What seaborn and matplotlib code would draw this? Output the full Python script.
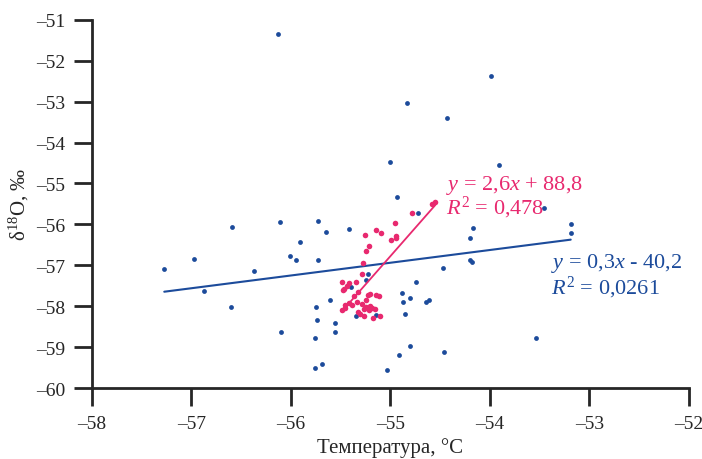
import numpy as np
import pandas as pd
import matplotlib
matplotlib.use("Agg")
import matplotlib.pyplot as plt
import seaborn as sns

# ─── DATA ────────────────────────────────────────────────────
blue_t = [-56.587, -57.273, -56.975, -56.871, -56.597, -56.125, -54.828, -54.426,
          -55.002, -54.935, -54.720, -56.107, -55.726, -55.642, -55.420, -55.904,
          -54.168, -54.200, -56.007, -55.944, -55.726, -56.366, -55.243, -55.220,
          -55.397, -55.602, -55.746, -55.736, -55.558, -55.552, -55.753, -56.098,
          -55.685, -55.756, -55.035, -55.350, -55.143, -54.744, -54.880, -54.868,
          -54.798, -54.848, -54.643, -54.607, -54.466, -54.798, -54.910, -54.456,
          -54.195, -54.180, -53.984, -53.910, -53.457, -53.186, -53.186, -53.540]
blue_d = [-56.06, -57.095, -56.85, -57.616, -58.017, -51.34, -53.03, -53.40,
          -54.48, -55.335, -55.71, -55.95, -55.91, -56.19, -56.12, -56.42,
          -56.08, -56.32, -56.77, -56.875, -56.875, -57.13, -57.365, -57.22,
          -57.52, -57.85, -58.01, -58.34, -58.42, -58.63, -58.77, -58.62,
          -59.41, -59.50, -59.565, -58.23, -58.21, -57.41, -57.665, -57.90,
          -57.80, -58.20, -57.90, -57.85, -57.07, -58.96, -59.20, -59.12,
          -56.875, -56.93, -52.38, -54.55, -55.60, -55.98, -56.21, -58.77]

pink_t = [-54.583, -54.547, -54.780, -54.952, -55.146, -55.093, -55.256, -54.989,
          -54.945, -54.940, -55.216, -55.243, -55.273, -55.283, -55.484, -55.461,
          -55.471, -55.411, -55.434, -55.340, -55.323, -55.364, -55.203, -55.223,
          -55.143, -55.113, -55.246, -55.454, -55.417, -55.387, -55.333, -55.283,
          -55.240, -55.266, -55.203, -55.186, -55.156, -55.213, -55.327, -55.304,
          -55.263, -55.176, -55.102, -55.484, -55.457]
pink_d = [-55.50, -55.45, -55.71, -55.96, -56.13, -56.22, -56.26, -56.39,
          -56.34, -56.28, -56.52, -56.64, -56.95, -57.20, -57.40, -57.58,
          -57.61, -57.44, -57.51, -57.40, -57.65, -57.76, -57.69, -57.73,
          -57.73, -57.76, -57.85, -57.97, -57.93, -57.96, -57.90, -57.95,
          -58.02, -58.07, -57.99, -58.05, -58.07, -58.10, -58.14, -58.19,
          -58.24, -58.29, -58.23, -58.09, -58.03]

x_ticks = [-58, -57, -56, -55, -54, -53, -52]
y_ticks = [-60, -59, -58, -57, -56, -55, -54, -53, -52, -51]
x_labels = ['–58', '–57', '–56', '–55', '–54', '–53', '–52']
y_labels = ['–60', '–59', '–58', '–57', '–56', '–55', '–54', '–53', '–52', '–51']

BLUE = '#1c4b9b'
PINK = '#e8296f'

blue_df = pd.DataFrame({'T': blue_t, 'd': blue_d})
pink_df = pd.DataFrame({'T': pink_t, 'd': pink_d})

# ─── STYLE ───────────────────────────────────────────────────
sns.set_style("ticks")
plt.rcParams['font.family'] = ['Liberation Serif', 'DejaVu Serif']
plt.rcParams['mathtext.fontset'] = 'custom'
plt.rcParams['mathtext.rm'] = 'Liberation Serif'
plt.rcParams['mathtext.it'] = 'Liberation Serif:italic'

fig = plt.figure(figsize=(7.02, 4.60), dpi=100)
ax = fig.add_axes([0.131, 0.154, 0.850, 0.801])

sns.regplot(data=blue_df, x='T', y='d', ax=ax, ci=None, color=BLUE,
            scatter_kws={'s': 12, 'linewidths': 0, 'alpha': 1},
            line_kws={'lw': 1.5}, truncate=True)
sns.regplot(data=pink_df, x='T', y='d', ax=ax, ci=None, color=PINK,
            scatter_kws={'s': 16, 'linewidths': 0, 'alpha': 1, 'zorder': 3},
            line_kws={'lw': 1.3, 'zorder': 4}, truncate=True)

ax.set_xlim(-58, -52)
ax.set_ylim(-60, -51)
ax.set_xticks(x_ticks, x_labels)
ax.set_yticks(y_ticks, y_labels)
ax.tick_params(direction='out', length=13, width=2, labelsize=14, pad=6)
for side in ['left', 'bottom']:
    ax.spines[side].set_linewidth(2)
sns.despine(ax=ax)

ax.set_xlabel('Температура, °C', fontsize=15, labelpad=4)
ax.set_ylabel(r'δ$^{18}$O, ‰', fontsize=15, labelpad=4)

ax.text(-54.44, -55.02, r'$y$ = 2,6$x$ + 88,8', color=PINK, fontsize=16, va='center')
ax.text(-54.44, -55.58, r'$R^2$ = 0,478', color=PINK, fontsize=16, va='center')
ax.text(-53.38, -56.93, r'$y$ = 0,3$x$ - 40,2', color=BLUE, fontsize=16, va='center')
ax.text(-53.38, -57.53, r'$R^2$ = 0,0261', color=BLUE, fontsize=16, va='center')

plt.savefig("out.png", dpi=100)
